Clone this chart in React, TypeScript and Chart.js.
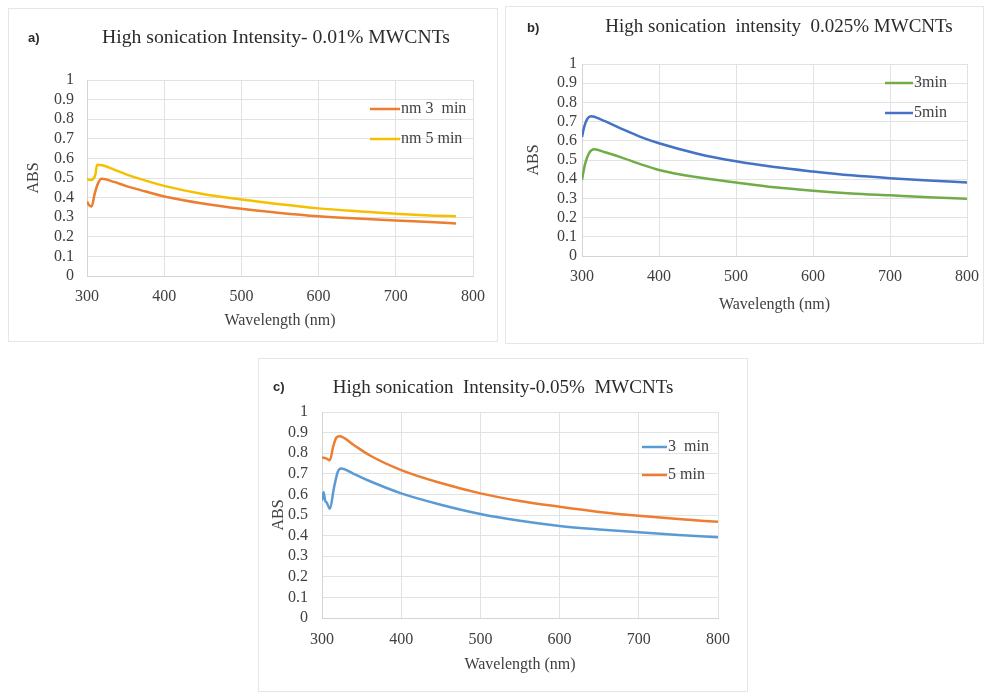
import React, { useEffect, useRef } from "react";
import { Chart, registerables } from "chart.js";

Chart.register(...registerables);

// ---------- data ----------
const xTickValues = [300, 400, 500, 600, 700, 800];
const yMin = 0;
const yMax = 1;
const yStep = 0.1;

// panel a
const titleA = "High sonication Intensity- 0.01% MWCNTs";
const tagA = "a)";
const labelsA = ["nm 3  min", "nm 5 min"];
const wlA3 = [300, 303, 306, 310, 314, 319, 335, 350, 375, 400, 450, 500, 550, 600, 650, 700, 750, 778];
const absA3 = [0.38, 0.36, 0.355, 0.42, 0.47, 0.496, 0.48, 0.46, 0.432, 0.406, 0.37, 0.343, 0.322, 0.305, 0.293, 0.283, 0.274, 0.268];
const wlA5 = [300, 304, 308, 311, 313, 320, 335, 350, 375, 400, 450, 500, 550, 600, 650, 700, 750, 778];
const absA5 = [0.496, 0.49, 0.495, 0.52, 0.568, 0.565, 0.543, 0.52, 0.488, 0.46, 0.418, 0.39, 0.366, 0.345, 0.33, 0.317, 0.308, 0.305];

// panel b
const titleB = "High sonication  intensity  0.025% MWCNTs";
const tagB = "b)";
const labelsB = ["3min", "5min"];
const wlB3 = [300, 304, 309, 316, 330, 350, 375, 400, 450, 500, 550, 600, 650, 700, 750, 800];
const absB3 = [0.397, 0.48, 0.535, 0.556, 0.54, 0.515, 0.48, 0.448, 0.41, 0.383, 0.358, 0.34, 0.326, 0.316, 0.306, 0.298];
const wlB5 = [300, 303, 307, 312, 325, 350, 375, 400, 450, 500, 550, 600, 650, 700, 750, 800];
const absB5 = [0.62, 0.675, 0.715, 0.728, 0.71, 0.665, 0.622, 0.587, 0.533, 0.493, 0.463, 0.44, 0.42, 0.405, 0.393, 0.383];

// panel c
const titleC = "High sonication  Intensity-0.05%  MWCNTs";
const tagC = "c)";
const labelsC = ["3  min", "5 min"];
const wlC3 = [300, 302, 304, 306, 310, 315, 320, 324, 340, 360, 400, 450, 500, 550, 600, 650, 700, 750, 800];
const absC3 = [0.57, 0.61, 0.57, 0.56, 0.53, 0.63, 0.71, 0.726, 0.7, 0.665, 0.605, 0.55, 0.505, 0.472, 0.447, 0.43, 0.416, 0.403, 0.392];
const wlC5 = [300, 305, 310, 314, 318, 322, 340, 360, 400, 450, 500, 550, 600, 650, 700, 750, 800];
const absC5 = [0.779, 0.775, 0.766, 0.83, 0.875, 0.882, 0.84, 0.79, 0.718, 0.655, 0.605, 0.568, 0.54, 0.515, 0.496, 0.48, 0.467];

// ---------- rendering ----------
type Series = { label: string; xs: number[]; ys: number[]; color: string };
type PanelCfg = {
  tag: string;
  title: string;
  titleSize: number;
  left: number;
  top: number;
  width: number;
  height: number;
  pad: { left: number; right: number; top: number; bottom: number };
  yW: number;
  xH: number;
  yTickPad: number;
  xTickPad: number;
  yTitlePad: number;
  xTitlePad: number;
  titleX: number;
  titleY: number;
  tagX: number;
  tagY: number;
  legX: number;
  legY: number;
  legDy: number;
  legLine: number;
  frame: { left: number; top: number; width: number; height: number };
  series: Series[];
};

const SERIF = '"Liberation Serif", "Times New Roman", serif';
const SANS = '"Liberation Sans", Arial, sans-serif';

const decorPlugin = {
  id: "decor",
  afterDraw(chart: any, _args: any, opts: any) {
    const ctx = chart.ctx as CanvasRenderingContext2D;
    ctx.save();
    ctx.textBaseline = "middle";
    ctx.fillStyle = "#2b2b2b";
    ctx.font = `${opts.titleSize}px ${SERIF}`;
    ctx.textAlign = "center";
    ctx.fillText(opts.title, opts.titleX, opts.titleY);
    ctx.font = `bold 13px ${SANS}`;
    ctx.textAlign = "left";
    ctx.fillText(opts.tag, opts.tagX, opts.tagY);
    ctx.font = `16px ${SERIF}`;
    chart.data.datasets.forEach((ds: any, i: number) => {
      const y = opts.legY + i * opts.legDy;
      ctx.strokeStyle = ds.borderColor;
      ctx.lineWidth = 2.5;
      ctx.beginPath();
      ctx.moveTo(opts.legX, y);
      ctx.lineTo(opts.legX + opts.legLine, y);
      ctx.stroke();
      ctx.fillStyle = "#404040";
      ctx.fillText(ds.label, opts.legX + opts.legLine + 1, y);
    });
    ctx.restore();
  },
};

function Panel({ cfg }: { cfg: PanelCfg }) {
  const ref = useRef<HTMLCanvasElement | null>(null);
  useEffect(() => {
    if (!ref.current) return;
    const chart = new Chart(ref.current, {
      type: "line",
      data: {
        datasets: cfg.series.map((s) => ({
          label: s.label,
          data: s.xs.map((x, i) => ({ x, y: s.ys[i] })),
          borderColor: s.color,
          backgroundColor: s.color,
          borderWidth: 2.5,
          pointRadius: 0,
          cubicInterpolationMode: "monotone" as const,
          fill: false,
        })),
      },
      options: {
        animation: false,
        responsive: false,
        maintainAspectRatio: false,
        layout: { padding: cfg.pad },
        plugins: {
          legend: { display: false },
          tooltip: { enabled: false },
          title: { display: false },
          decor: {
            title: cfg.title,
            titleSize: cfg.titleSize,
            titleX: cfg.titleX,
            titleY: cfg.titleY,
            tag: cfg.tag,
            tagX: cfg.tagX,
            tagY: cfg.tagY,
            legX: cfg.legX,
            legY: cfg.legY,
            legDy: cfg.legDy,
            legLine: cfg.legLine,
          },
        } as any,
        scales: {
          x: {
            type: "linear",
            min: xTickValues[0],
            max: xTickValues[xTickValues.length - 1],
            afterBuildTicks: (s: any) => {
              s.ticks = xTickValues.map((v) => ({ value: v }));
            },
            afterFit: (s: any) => {
              s.height = cfg.xH;
              s.paddingLeft = 0;
              s.paddingRight = 0;
            },
            ticks: {
              padding: cfg.xTickPad,
              color: "#404040",
              font: { family: SERIF, size: 16 },
              maxRotation: 0,
              autoSkip: false,
            },
            grid: { color: "#e2e2e2", lineWidth: 1, drawTicks: false },
            border: { color: "#d4d4d4" },
            title: {
              display: true,
              text: "Wavelength (nm)",
              color: "#404040",
              font: { family: SERIF, size: 16 },
              padding: { top: 0, bottom: cfg.xTitlePad },
            },
          },
          y: {
            type: "linear",
            min: yMin,
            max: yMax,
            afterFit: (s: any) => {
              s.width = cfg.yW;
              s.paddingTop = 0;
              s.paddingBottom = 0;
            },
            ticks: {
              stepSize: yStep,
              autoSkip: false,
              padding: cfg.yTickPad,
              color: "#404040",
              font: { family: SERIF, size: 16 },
              callback: (v: any) => String(Math.round(Number(v) * 10) / 10),
            },
            grid: { color: "#e2e2e2", lineWidth: 1, drawTicks: false },
            border: { color: "#d4d4d4" },
            title: {
              display: true,
              text: "ABS",
              color: "#404040",
              font: { family: SERIF, size: 16 },
              padding: { top: cfg.yTitlePad, bottom: 0 },
            },
          },
        },
      },
      plugins: [decorPlugin],
    } as any);
    return () => chart.destroy();
  }, [cfg]);
  return (
    <>
      <div
        style={{
          position: "absolute",
          left: cfg.frame.left,
          top: cfg.frame.top,
          width: cfg.frame.width,
          height: cfg.frame.height,
          border: "1px solid #e6e6e6",
          boxSizing: "border-box",
        }}
      />
      <canvas
        ref={ref}
        width={cfg.width}
        height={cfg.height}
        style={{ position: "absolute", left: cfg.left, top: cfg.top, width: cfg.width, height: cfg.height }}
      />
    </>
  );
}

const panelA: PanelCfg = {
  tag: tagA,
  title: titleA,
  titleSize: 19.7,
  left: 8,
  top: 8,
  width: 490,
  height: 332,
  pad: { left: 10, right: 25, top: 72, bottom: 0 },
  yW: 69,
  xH: 64,
  yTickPad: 13,
  xTickPad: 11,
  yTitlePad: 6,
  xTitlePad: 10,
  titleX: 268,
  titleY: 30,
  tagX: 20,
  tagY: 30,
  legX: 362,
  legY: 101,
  legDy: 30,
  legLine: 30,
  frame: { left: 8, top: 8, width: 490, height: 334 },
  series: [
    { label: labelsA[0], xs: wlA3, ys: absA3, color: "#ED7D31" },
    { label: labelsA[1], xs: wlA5, ys: absA5, color: "#F5C000" },
  ],
};

const panelB: PanelCfg = {
  tag: tagB,
  title: titleB,
  titleSize: 19,
  left: 505,
  top: 5,
  width: 479,
  height: 330,
  pad: { left: 10, right: 17, top: 59, bottom: 0 },
  yW: 67,
  xH: 79,
  yTickPad: 5,
  xTickPad: 11,
  yTitlePad: 9,
  xTitlePad: 21,
  titleX: 274,
  titleY: 22,
  tagX: 22,
  tagY: 23,
  legX: 380,
  legY: 78,
  legDy: 30,
  legLine: 28,
  frame: { left: 505, top: 6, width: 479, height: 338 },
  series: [
    { label: labelsB[0], xs: wlB3, ys: absB3, color: "#70AD47" },
    { label: labelsB[1], xs: wlB5, ys: absB5, color: "#4472C4" },
  ],
};

const panelC: PanelCfg = {
  tag: tagC,
  title: titleC,
  titleSize: 19,
  left: 258,
  top: 360,
  width: 490,
  height: 332,
  pad: { left: 5, right: 30, top: 52, bottom: 0 },
  yW: 59,
  xH: 74,
  yTickPad: 14,
  xTickPad: 12,
  yTitlePad: 6,
  xTitlePad: 18,
  titleX: 245,
  titleY: 28,
  tagX: 15,
  tagY: 27,
  legX: 384,
  legY: 87,
  legDy: 28,
  legLine: 25,
  frame: { left: 258, top: 358, width: 490, height: 334 },
  series: [
    { label: labelsC[0], xs: wlC3, ys: absC3, color: "#5B9BD5" },
    { label: labelsC[1], xs: wlC5, ys: absC5, color: "#ED7D31" },
  ],
};

export default function App() {
  return (
    <div
      style={{
        position: "absolute",
        left: 0,
        top: 0,
        width: 984,
        height: 692,
        background: "#ffffff",
        overflow: "hidden",
      }}
    >
      <Panel cfg={panelA} />
      <Panel cfg={panelB} />
      <Panel cfg={panelC} />
    </div>
  );
}
